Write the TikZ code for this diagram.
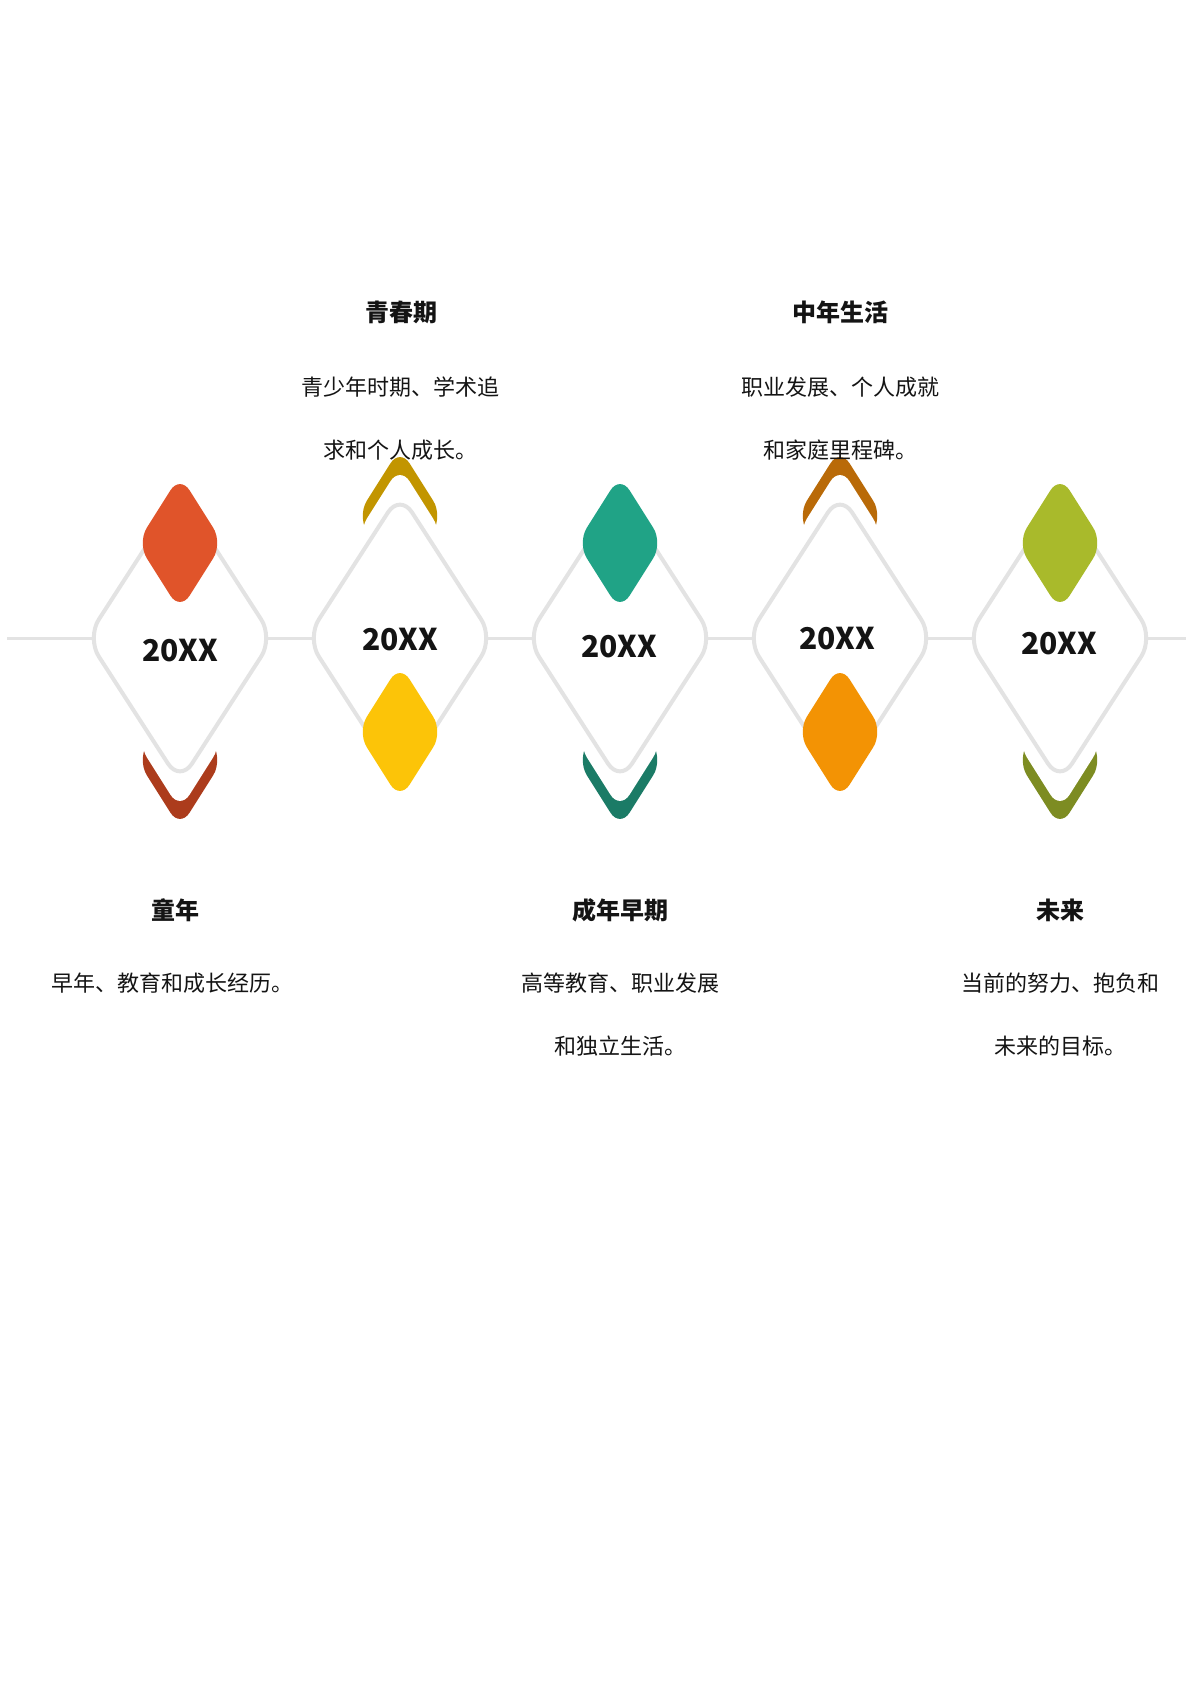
\documentclass[tikz,border=0pt]{standalone}
\usepackage{fontspec}
\setmainfont{Noto Sans CJK SC}
\usetikzlibrary{shapes.geometric}
\definecolor{ringgray}{HTML}{E3E3E3}
\definecolor{ink}{HTML}{141414}
\definecolor{redA}{HTML}{E0542A}
\definecolor{redB}{HTML}{AC3C1C}
\definecolor{goldA}{HTML}{FCC408}
\definecolor{goldB}{HTML}{C29500}
\definecolor{tealA}{HTML}{20A386}
\definecolor{tealB}{HTML}{1B7B66}
\definecolor{amberA}{HTML}{F39304}
\definecolor{amberB}{HTML}{B96A08}
\definecolor{limeA}{HTML}{A9BA2B}
\definecolor{limeB}{HTML}{7D8C22}
\begin{document}
\begin{tikzpicture}[x=0.5pt,y=-0.5pt,
    gem/.style={diamond,minimum width=43pt,minimum height=68pt,inner sep=0pt,rounded corners=9pt},
    rhomb/.style={diamond,minimum width=94pt,minimum height=145pt,inner sep=0pt,
      rounded corners=11pt,draw=ringgray,line width=2pt,fill=white},
    yeartext/.style={font=\fontsize{15pt}{18pt}\selectfont\bfseries,text=ink},
    stagehead/.style={font=\fontsize{12pt}{14pt}\selectfont\bfseries,text=ink},
    stagetext/.style={font=\fontsize{11pt}{31.5pt}\selectfont,text=ink,align=center}]
  \useasboundingbox (0,0) rectangle (1191,1684);
  % chevrons: a gem cut by a white gem
  \path
    (180,760) node[gem,fill=redB] (v1){}
    (400,516) node[gem,fill=goldB] (v2){}
    (620,760) node[gem,fill=tealB] (v3){}
    (840,516) node[gem,fill=amberB] (v4){}
    (1060,760) node[gem,fill=limeB] (v5){};
  \path
    (180,742) node[gem,fill=white] (w1){}
    (400,534) node[gem,fill=white] (w2){}
    (620,742) node[gem,fill=white] (w3){}
    (840,534) node[gem,fill=white] (w4){}
    (1060,742) node[gem,fill=white] (w5){};
  \coordinate (l0) at (7,638);
  \coordinate (l6) at (1186,638);
  \draw[ringgray,line width=1.5pt] (l0) to (l6);
  \path
    (180,638) node[rhomb] (d1){}
    (400,638) node[rhomb] (d2){}
    (620,638) node[rhomb] (d3){}
    (840,638) node[rhomb] (d4){}
    (1060,638) node[rhomb] (d5){};
  \path
    (180,543) node[gem,fill=redA] (g1){}
    (400,732) node[gem,fill=goldA] (g2){}
    (620,543) node[gem,fill=tealA] (g3){}
    (840,732) node[gem,fill=amberA] (g4){}
    (1060,543) node[gem,fill=limeA] (g5){};
  \path
    (180,651) node[yeartext] (y1){20XX}
    (400,640) node[yeartext] (y2){20XX}
    (619,647) node[yeartext] (y3){20XX}
    (837,639) node[yeartext] (y4){20XX}
    (1059,644) node[yeartext] (y5){20XX};
  \path
    (175,910) node[stagehead] (h1){童年}
    (401,312) node[stagehead] (h2){青春期}
    (620,910) node[stagehead] (h3){成年早期}
    (840,312) node[stagehead] (h4){中年生活}
    (1060,910) node[stagehead] (h5){未来};
  \path
    (172,983) node[stagetext] (t1){早年、教育和成长经历。}
    (400,418.5) node[stagetext] (t2){青少年时期、学术追\\求和个人成长。}
    (620,1014.5) node[stagetext] (t3){高等教育、职业发展\\和独立生活。}
    (840,418.5) node[stagetext] (t4){职业发展、个人成就\\和家庭里程碑。}
    (1060,1014.5) node[stagetext] (t5){当前的努力、抱负和\\未来的目标。};
\end{tikzpicture}
\end{document}
